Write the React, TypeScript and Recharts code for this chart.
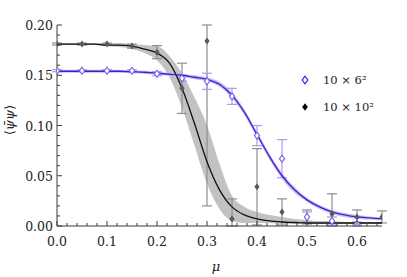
import { ComposedChart, Line, Area, Scatter, ErrorBar, XAxis, YAxis } from 'recharts';

// fitted curves on a 0.025 grid
const curveX = [0, 0.025, 0.05, 0.075, 0.1, 0.125, 0.15, 0.175, 0.2, 0.225, 0.25, 0.275, 0.3, 0.325, 0.35, 0.375, 0.4, 0.425, 0.45, 0.475, 0.5, 0.525, 0.55, 0.575, 0.6, 0.625, 0.65];
const fit10 = [0.181, 0.181, 0.181, 0.181, 0.18, 0.18, 0.179, 0.176, 0.172, 0.162, 0.137, 0.102, 0.064, 0.036, 0.019, 0.011, 0.007, 0.005, 0.004, 0.0035, 0.003, 0.003, 0.003, 0.003, 0.003, 0.003, 0.003];
const band10Hi = [0.182, 0.182, 0.182, 0.182, 0.182, 0.182, 0.181, 0.18, 0.179, 0.169, 0.152, 0.128, 0.1, 0.062, 0.03, 0.019, 0.014, 0.011, 0.009, 0.007, 0.006, 0.005, 0.005, 0.004, 0.004, 0.004, 0.004];
const band10Lo = [0.18, 0.18, 0.18, 0.18, 0.179, 0.178, 0.176, 0.172, 0.165, 0.148, 0.118, 0.08, 0.042, 0.017, 0.005, 0.003, 0.003, 0.003, 0.002, 0.002, 0.002, 0.002, 0.002, 0.002, 0.002, 0.002, 0.002];
const fit6 = [0.154, 0.154, 0.154, 0.154, 0.154, 0.154, 0.1535, 0.153, 0.152, 0.151, 0.15, 0.148, 0.146, 0.141, 0.13, 0.113, 0.091, 0.069, 0.05, 0.036, 0.026, 0.019, 0.014, 0.011, 0.009, 0.008, 0.007];
const band6Hi = [0.1555, 0.1555, 0.1555, 0.1555, 0.1555, 0.1555, 0.155, 0.1545, 0.1535, 0.1525, 0.1515, 0.15, 0.148, 0.1435, 0.133, 0.116, 0.094, 0.072, 0.053, 0.039, 0.028, 0.021, 0.016, 0.013, 0.011, 0.0095, 0.0085];
const band6Lo = [0.1525, 0.1525, 0.1525, 0.1525, 0.1525, 0.1525, 0.152, 0.1515, 0.1505, 0.1495, 0.1485, 0.146, 0.144, 0.1385, 0.127, 0.11, 0.088, 0.066, 0.047, 0.033, 0.024, 0.017, 0.012, 0.009, 0.007, 0.0065, 0.0055];

// measured points; error bars are [below, above] as far as they show inside the frame
const pointX10 = [0, 0.05, 0.1, 0.15, 0.2, 0.25, 0.3, 0.35, 0.4, 0.45, 0.5, 0.55, 0.6, 0.65];
const pts10 = [0.181, 0.181, 0.181, 0.179, 0.173, 0.137, 0.184, 0.007, 0.039, 0.014, 0.009, 0.012, 0.009, 0.009];
const err10 = [
  [0.001, 0.001], [0.001, 0.001], [0.001, 0.001], [0.002, 0.002], [0.0065, 0.0065], [0.025, 0.025], [0.164, 0.016],
  [0.007, 0.02], [0.038, 0.038], [0.013, 0.013], [0.007, 0.007], [0.012, 0.02], [0.007, 0.007], [0.006, 0.006],
];
const pointX6 = [0, 0.05, 0.1, 0.15, 0.2, 0.25, 0.3, 0.35, 0.4, 0.45, 0.5, 0.55, 0.6];
const pts6 = [0.1545, 0.1545, 0.1545, 0.1545, 0.1515, 0.147, 0.144, 0.129, 0.09, 0.067, 0.009, 0.005, 0.002];
const err6 = [0.001, 0.001, 0.001, 0.001, 0.002, 0.003, 0.008, 0.008, 0.01, 0.019, 0.005, 0.004, 0.002];

const xTicks = [0, 0.02, 0.04, 0.06, 0.08, 0.1, 0.12, 0.14, 0.16, 0.18, 0.2, 0.22, 0.24, 0.26, 0.28, 0.3, 0.32, 0.34, 0.36, 0.38, 0.4, 0.42, 0.44, 0.46, 0.48, 0.5, 0.52, 0.54, 0.56, 0.58, 0.6, 0.62, 0.64];
const xLabels = [0, 0.1, 0.2, 0.3, 0.4, 0.5, 0.6];
const yTicks = [0, 0.01, 0.02, 0.03, 0.04, 0.05, 0.06, 0.07, 0.08, 0.09, 0.1, 0.11, 0.12, 0.13, 0.14, 0.15, 0.16, 0.17, 0.18, 0.19, 0.2];
const yLabels = [0, 0.05, 0.1, 0.15, 0.2];

const seriesNames = ['10 × 6²', '10 × 10²'];

const curve10 = curveX.map((x, i) => ({ x, y: fit10[i], band: [band10Lo[i], band10Hi[i]] }));
const curve6 = curveX.map((x, i) => ({ x, y: fit6[i], band: [band6Lo[i], band6Hi[i]] }));
const points10 = pointX10.map((x, i) => ({ x, y: pts10[i], err: err10[i] }));
const points6 = pointX6.map((x, i) => ({ x, y: pts6[i], err: err6[i] }));

const FONT = 'DejaVu Serif';
const FRAME = '#3a3a3a';
const PURPLE = '#4a18d8';

const diamondPath = (cx: number, cy: number, h: number, w: number) =>
  `M${cx},${cy - h}L${cx + w},${cy}L${cx},${cy + h}L${cx - w},${cy}Z`;

function BottomTick({ x, y, payload }: any) {
  const major = xLabels.includes(payload.value);
  return (
    <g>
      <line x1={x} y1={y} x2={x} y2={y - (major ? 5 : 3)} stroke={FRAME} />
      {major && (
        <text x={x} y={y + 20} textAnchor="middle" fontFamily={FONT} fontSize={12.5} fill="#222">
          {payload.value.toFixed(1)}
        </text>
      )}
    </g>
  );
}

function TopTick({ x, y, payload }: any) {
  const major = xLabels.includes(payload.value);
  return <line x1={x} y1={y} x2={x} y2={y + (major ? 5 : 3)} stroke={FRAME} />;
}

function LeftTick({ x, y, payload }: any) {
  const major = yLabels.includes(payload.value);
  return (
    <g>
      <line x1={x} y1={y} x2={x + (major ? 5 : 3)} y2={y} stroke={FRAME} />
      {major && (
        <text x={x - 4} y={y + 5} textAnchor="end" fontFamily={FONT} fontSize={12.5} fill="#222">
          {payload.value.toFixed(2)}
        </text>
      )}
    </g>
  );
}

function RightTick({ x, y, payload }: any) {
  const major = yLabels.includes(payload.value);
  return <line x1={x} y1={y} x2={x - (major ? 5 : 3)} y2={y} stroke={FRAME} />;
}

function HollowDiamond({ cx, cy }: any) {
  return <path d={diamondPath(cx, cy, 3.5, 2.6)} fill="#fff" stroke="#7b5be8" strokeWidth={1.1} />;
}

function FilledDiamond({ cx, cy }: any) {
  return <path d={diamondPath(cx, cy, 3.5, 2.6)} fill="#5a5a5a" stroke="none" />;
}

export default function App() {
  return (
    <div style={{ position: 'absolute', left: 0, top: 0, width: 407, height: 277, background: '#fff' }}>
      <ComposedChart width={407} height={277} margin={{ top: 25, right: 25, bottom: 0, left: 0 }}>
        <XAxis
          type="number"
          dataKey="x"
          domain={[0, 0.65]}
          ticks={xTicks}
          interval={0}
          height={51}
          tickSize={0}
          tickMargin={0}
          tickLine={false}
          axisLine={{ stroke: FRAME }}
          tick={<BottomTick />}
          allowDataOverflow
        />
        <XAxis
          xAxisId="top"
          orientation="top"
          type="number"
          dataKey="x"
          domain={[0, 0.65]}
          ticks={xTicks}
          interval={0}
          height={0}
          tickSize={0}
          tickMargin={0}
          tickLine={false}
          axisLine={{ stroke: FRAME }}
          tick={<TopTick />}
        />
        <YAxis
          type="number"
          domain={[0, 0.2]}
          ticks={yTicks}
          interval={0}
          width={57}
          tickSize={0}
          tickMargin={0}
          tickLine={false}
          axisLine={{ stroke: FRAME }}
          tick={<LeftTick />}
          allowDataOverflow
        />
        <YAxis
          yAxisId="right"
          orientation="right"
          type="number"
          domain={[0, 0.2]}
          ticks={yTicks}
          interval={0}
          width={0}
          tickSize={0}
          tickMargin={0}
          tickLine={false}
          axisLine={{ stroke: FRAME }}
          tick={<RightTick />}
        />
        <Area data={curve10} dataKey="band" type="monotone" stroke="none" fill="#c2c2c2" fillOpacity={1} isAnimationActive={false} />
        <Area data={curve6} dataKey="band" type="monotone" stroke="none" fill="#c9bff4" fillOpacity={1} isAnimationActive={false} />
        <Scatter data={points10} dataKey="y" name={seriesNames[1]} shape={<FilledDiamond />} isAnimationActive={false}>
          <ErrorBar dataKey="err" direction="y" width={5} stroke="#8e8e8e" strokeWidth={1.2} isAnimationActive={false} />
        </Scatter>
        <Scatter data={points6} dataKey="y" name={seriesNames[0]} shape={<HollowDiamond />} isAnimationActive={false}>
          <ErrorBar dataKey="err" direction="y" width={5} stroke="#ab98f0" strokeWidth={1.2} isAnimationActive={false} />
        </Scatter>
        <Line data={curve10} dataKey="y" type="monotone" stroke="#111" strokeWidth={1.3} dot={false} isAnimationActive={false} />
        <Line data={curve6} dataKey="y" type="monotone" stroke={PURPLE} strokeWidth={1.3} dot={false} isAnimationActive={false} />
      </ComposedChart>
      <svg width={407} height={277} style={{ position: 'absolute', left: 0, top: 0, pointerEvents: 'none' }}>
        <text x={0} y={0} transform="translate(14,120) rotate(-90)" textAnchor="middle" fontFamily={FONT} fontSize={13} fill="#222">
          ⟨<tspan fontStyle="italic">ψ̄ψ</tspan>⟩
        </text>
        <text x={216} y={271} textAnchor="middle" fontFamily={FONT} fontStyle="italic" fontSize={13} fill="#222">
          μ
        </text>
        <path d={diamondPath(305, 80, 3.8, 2.8)} fill="#fff" stroke="#5a2ee0" strokeWidth={1.3} />
        <text x={323} y={84} fontFamily={FONT} fontSize={11.5} fill="#222">
          {seriesNames[0]}
        </text>
        <path d={diamondPath(305, 107, 3.8, 2.8)} fill="#000" />
        <text x={323} y={111} fontFamily={FONT} fontSize={11.5} fill="#222">
          {seriesNames[1]}
        </text>
      </svg>
    </div>
  );
}
